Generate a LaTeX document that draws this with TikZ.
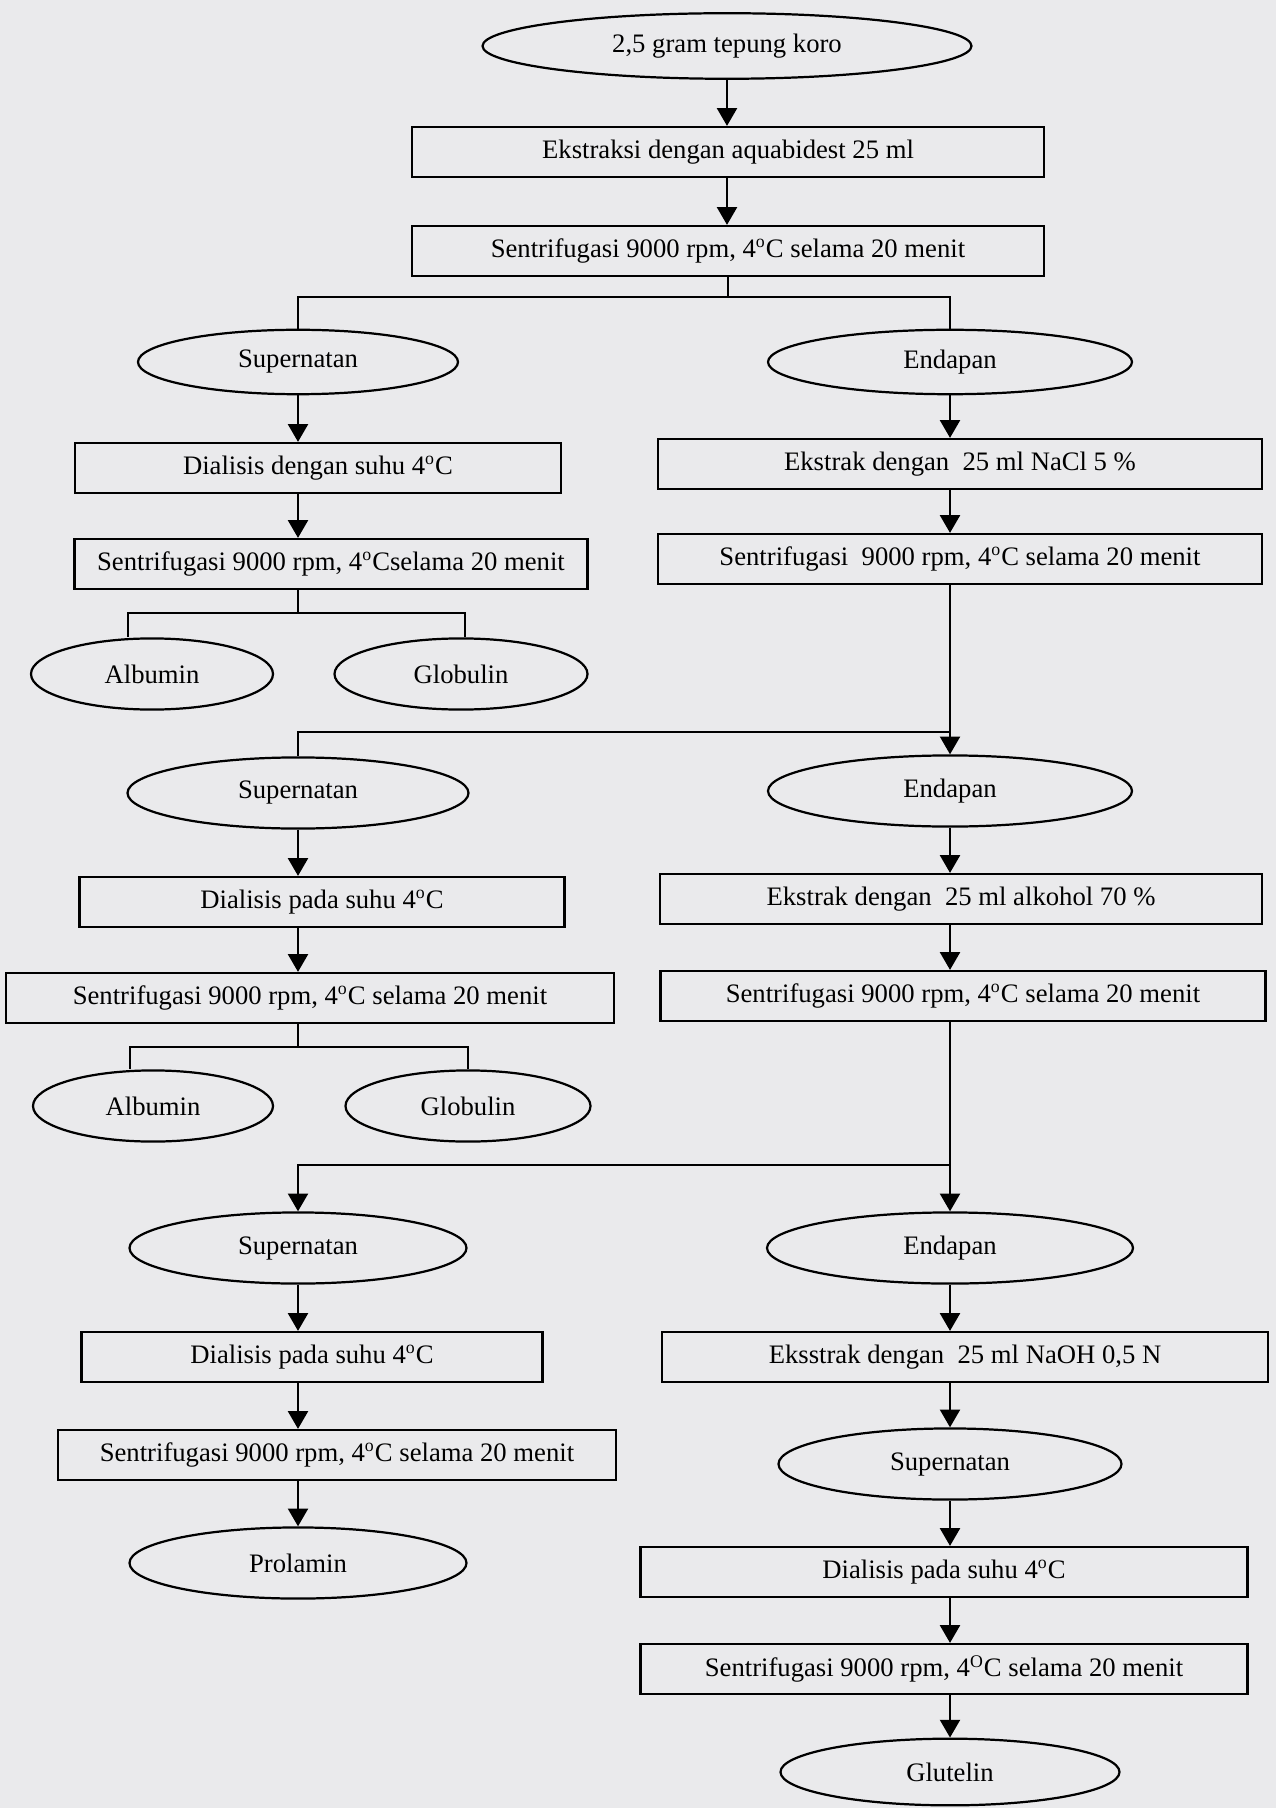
\documentclass[tikz,border=0pt]{standalone}
\usepackage{fontspec}
\setmainfont{Liberation Serif}
\usetikzlibrary{arrows.meta,positioning,calc,shapes.geometric}
\definecolor{paper}{RGB}{234,234,236}

\begin{document}
\begin{tikzpicture}[x=.45pt,y=-.45pt,font=\fontsize{12}{14}\selectfont]
  \tikzset{box/.style={draw,line width=1pt,minimum width=#1*.45pt,minimum height=22.5pt,inner sep=0pt},
    oval/.style={draw,line width=1pt,ellipse,minimum width=#1*.45pt,minimum height=32pt,inner sep=0pt},
    arr/.style={line width=1pt,-{Triangle[width=9pt,length=8pt]}},
    ln/.style={line width=1pt}}
  \fill[paper] (0,0) rectangle (1276,1808);
  \useasboundingbox (0,0) rectangle (1276,1808);

  \node[oval=489,minimum height=29.5pt] (start) at (727,46) {2,5 gram tepung koro};
  \node[box=632] (ekstr) at (728,152) {Ekstraksi dengan aquabidest 25 ml};
  \node[box=632] (sent0) at (728,251) {Sentrifugasi 9000 rpm, 4\textsuperscript{o}C selama 20 menit};
  \coordinate (j1) at (728,297);

  \node[oval=320,minimum height=29pt] (sup1) at (298,362) {Supernatan};
  \node[box=486] (dial1) at (318,468) {Dialisis dengan suhu 4\textsuperscript{o}C};
  \node[box=513] (sent1) at (331,564) {Sentrifugasi 9000 rpm, 4\textsuperscript{o}Cselama 20 menit};
  \coordinate (j4) at (298,613);
  \coordinate (a1) at (128,613);
  \coordinate (g1) at (465,613);
  \node[oval=242] (alb1) at (152,674) {Albumin};
  \node[oval=253] (glob1) at (461,674) {Globulin};

  \node[oval=364,minimum height=29pt] (end1) at (950,362) {Endapan};
  \node[box=604] (nacl) at (960,464) {Ekstrak dengan\ \ 25 ml NaCl 5 \%};
  \node[box=604] (sentR1) at (960,559) {Sentrifugasi\ \ 9000 rpm, 4\textsuperscript{o}C selama 20 menit};
  \coordinate (j2) at (950,732);

  \node[oval=341] (sup2) at (298,793) {Supernatan};
  \node[box=485] (dial2) at (322,902) {Dialisis pada suhu 4\textsuperscript{o}C};
  \node[box=608] (sent2) at (310,998) {Sentrifugasi 9000 rpm, 4\textsuperscript{o}C selama 20 menit};
  \coordinate (j5) at (298,1047);
  \coordinate (a2) at (130,1047);
  \coordinate (g2) at (468,1047);
  \node[oval=240] (alb2) at (153,1106) {Albumin};
  \node[oval=245] (glob2) at (468,1106) {Globulin};

  \node[oval=364] (end2) at (950,791) {Endapan};
  \node[box=602] (alko) at (961,899) {Ekstrak dengan\ \ 25 ml alkohol 70 \%};
  \node[box=605] (sentR2) at (963,996) {Sentrifugasi 9000 rpm, 4\textsuperscript{o}C selama 20 menit};
  \coordinate (j3) at (950,1165);

  \node[oval=337] (sup3) at (298,1248) {Supernatan};
  \node[box=461] (dial3) at (312,1357) {Dialisis pada suhu 4\textsuperscript{o}C};
  \node[box=558] (sent3) at (337,1455) {Sentrifugasi 9000 rpm, 4\textsuperscript{o}C selama 20 menit};
  \node[oval=337] (prol) at (298,1563) {Prolamin};

  \node[oval=366] (end3) at (950,1248) {Endapan};
  \node[box=606] (naoh) at (965,1357) {Eksstrak dengan\ \ 25 ml NaOH 0,5 N};
  \node[oval=343] (sup4) at (950,1464) {Supernatan};
  \node[box=607] (dial4) at (944,1572) {Dialisis pada suhu 4\textsuperscript{o}C};
  \node[box=607] (sent4) at (944,1669) {Sentrifugasi 9000 rpm, 4\textsuperscript{O}C selama 20 menit};
  \node[oval=339,minimum height=30pt] (glut) at (950,1772) {Glutelin};

  \foreach \a/\b/\c in {start/ekstr/start,ekstr/sent0/start,sup1/dial1/sup1,dial1/sent1/sup1,
      end1/nacl/end1,nacl/sentR1/end1,sup2/dial2/sup2,dial2/sent2/sup2,end2/alko/end2,alko/sentR2/end2,
      sup3/dial3/sup3,dial3/sent3/sup3,sent3/prol/sup3,end3/naoh/end3,naoh/sup4/end3,
      sup4/dial4/end3,dial4/sent4/end3,sent4/glut/end3}
    \draw[arr] (\a.south -| \c) -- (\b.north -| \c);

  \draw[ln] (sent0.south) -- (j1);
  \draw[ln] (j1) -| (sup1);
  \draw[ln] (j1) -| (end1);
  \draw[ln] (sent1.south -| j4) -- (j4);
  \draw[ln] (a1 |- alb1.north) -- (a1) -- (g1) -- (g1 |- glob1.north);
  \draw[arr] (sentR1.south -| end1) -- (end2);
  \draw[ln] (j2) -| (sup2);
  \draw[ln] (sent2.south -| j5) -- (j5);
  \draw[ln] (a2 |- alb2.north) -- (a2) -- (g2) -- (g2 |- glob2.north);
  \draw[arr] (sentR2.south -| end2) -- (end3);
  \draw[arr] (j3) -| (sup3);
\end{tikzpicture}
\end{document}
